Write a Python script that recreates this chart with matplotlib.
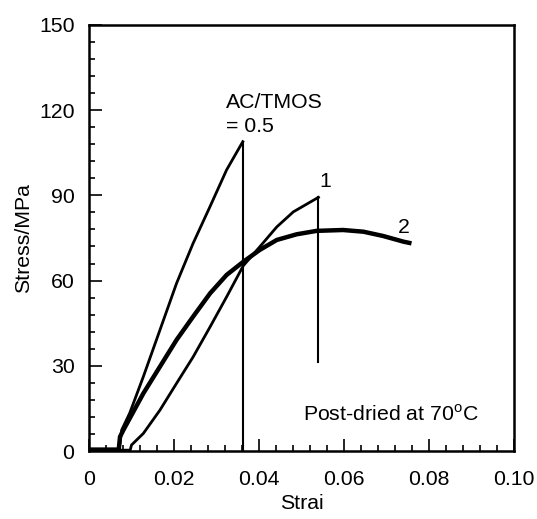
import matplotlib
matplotlib.use("Agg")
import matplotlib.pyplot as plt
from matplotlib.ticker import MultipleLocator

plt.rcParams["font.family"] = ["Liberation Sans", "DejaVu Sans"]
plt.rcParams["mathtext.fontset"] = "custom"
plt.rcParams["mathtext.rm"] = "Liberation Sans"

# AC/TMOS = 0.5
strain_a = [0, 0.0071, 0.0073, 0.0077, 0.0096, 0.0128, 0.0167, 0.0206, 0.0245, 0.0285, 0.0324, 0.0362]
stress_a = [0.5, 0.5, 2.8, 7.4, 13.4, 26.2, 42.6, 59.0, 73.1, 86.1, 99.0, 108.9]

# AC/TMOS = 1
strain_1 = [0, 0.0097, 0.0100, 0.0128, 0.0167, 0.0206, 0.0245, 0.0285, 0.0324,
            0.0363, 0.0402, 0.0442, 0.0481, 0.0540]
stress_1 = [0.3, 0.3, 2.1, 6.2, 14.4, 23.8, 33.1, 43.7, 54.3,
            65.2, 71.9, 78.9, 84.2, 89.3]
break_1 = 31.4

# AC/TMOS = 2
strain_2 = [0, 0.0070, 0.0073, 0.0081, 0.0128, 0.0167, 0.0206, 0.0245, 0.0285, 0.0324,
            0.0363, 0.0402, 0.0442, 0.0489, 0.0536, 0.0598, 0.0646, 0.0692, 0.0740, 0.0759]
stress_2 = [0.5, 0.5, 5.0, 7.4, 20.3, 29.7, 39.1, 47.3, 55.5, 62.0,
            66.6, 70.8, 74.3, 76.3, 77.5, 77.8, 77.2, 75.7, 73.7, 73.1]

fig = plt.figure(figsize=(5.37, 5.19), dpi=100)
ax = fig.add_axes([0.1657, 0.131, 0.7913, 0.821])

ax.plot(strain_a, stress_a, color="black", lw=2.0)
ax.plot([strain_a[-1], strain_a[-1]], [stress_a[-1], 0], color="black", lw=1.5)

ax.plot(strain_1, stress_1, color="black", lw=2.0)
ax.plot([strain_1[-1], strain_1[-1]], [stress_1[-1], break_1], color="black", lw=1.5)

ax.plot(strain_2, stress_2, color="black", lw=3.2, solid_capstyle="butt")

fs = 15.3
ax.text(0.0322, 111, "AC/TMOS\n= 0.5", fontsize=fs, ha="left", va="bottom", linespacing=1.3)
ax.text(0.0557, 91.5, "1", fontsize=fs, ha="center", va="bottom")
ax.text(0.0742, 75.5, "2", fontsize=fs, ha="center", va="bottom")
ax.text(0.0503, 13, r"Post-dried at 70$^\mathrm{o}$C", fontsize=fs, ha="left", va="center")

ax.set_xlim(0, 0.1)
ax.set_ylim(0, 150)
ax.set_xticks([0, 0.02, 0.04, 0.06, 0.08, 0.10])
ax.set_xticklabels(["0", "0.02", "0.04", "0.06", "0.08", "0.10"])
ax.xaxis.set_minor_locator(MultipleLocator(0.004))
ax.yaxis.set_major_locator(MultipleLocator(30))
ax.yaxis.set_minor_locator(MultipleLocator(6))
ax.tick_params(which="both", direction="in", top=False, right=False, labelsize=fs, width=1.2)
ax.tick_params(which="major", length=9)
ax.tick_params(which="minor", length=4.5)
ax.tick_params(axis="x", which="major", pad=14)
ax.tick_params(axis="y", which="major", pad=10.5)
for s in ax.spines.values():
    s.set_linewidth(1.8)

ax.set_xlabel("Strai", fontsize=fs, labelpad=3)
ax.set_ylabel("Stress/MPa", fontsize=fs, labelpad=4)

fig.savefig("out.png", dpi=100)
